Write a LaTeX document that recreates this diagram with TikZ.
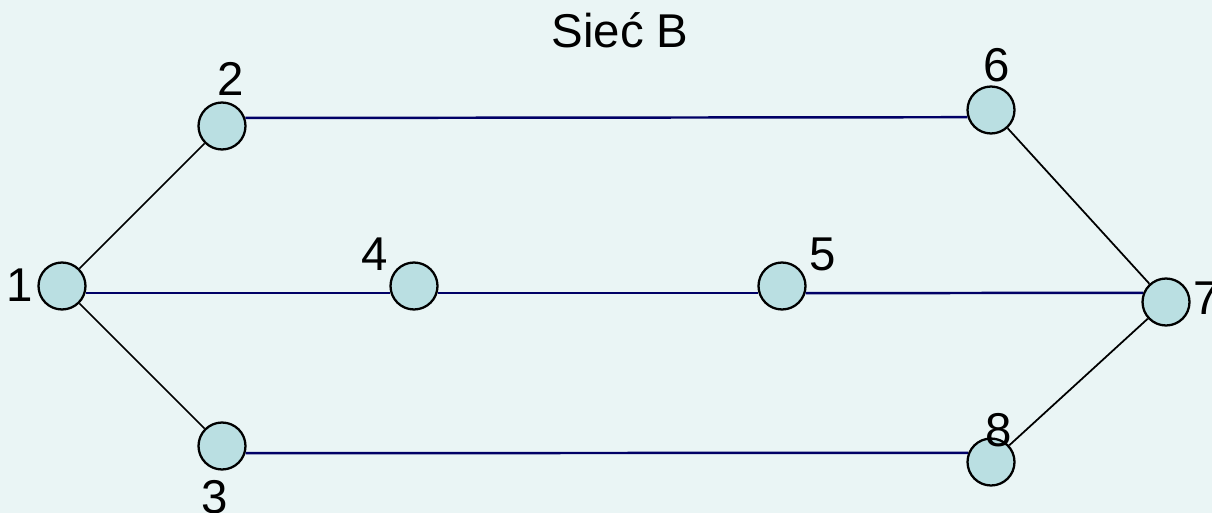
\documentclass[tikz,border=0pt]{standalone}
\usepackage{fontspec}
\setmainfont{Liberation Sans}
\usetikzlibrary{calc}
\definecolor{bgcol}{HTML}{EAF5F5}
\definecolor{nodecol}{HTML}{BADFE2}
\definecolor{linkcol}{HTML}{000066}

\begin{document}
\begin{tikzpicture}[
    x=0.02cm, y=-0.02cm,
    vertex/.style={circle, draw, line width=1.3pt, fill=nodecol, minimum size=0.94cm, inner sep=0pt},
    tag/.style={font=\fontsize{27}{31}\selectfont, inner sep=0pt},
    link/.style={draw=linkcol, line width=1.4pt},
    edge/.style={draw=black, line width=1pt}
]
    % Background
    \fill[bgcol] (0,0) rectangle (1212,513);
    \useasboundingbox (0,0) rectangle (1212,513);

    % Title
    \node[tag] (title) at (620,30) {Sieć B};

    % Nodes
    \node[vertex] (n1) at (62,286) {};
    \node[vertex] (n2) at (222,126) {};
    \node[vertex] (n3) at (222,446) {};
    \node[vertex] (n4) at (414,286) {};
    \node[vertex] (n5) at (782,286) {};
    \node[vertex] (n6) at (991,110) {};
    \node[vertex] (n7) at (1166,302) {};
    \node[vertex] (n8) at (991,462) {};

    % Labels
    \node[tag] (l1) at (20,285) {1};
    \node[tag] (l2) at (231,79) {2};
    \node[tag] (l3) at (215,497) {3};
    \node[tag] (l4) at (375,254) {4};
    \node[tag] (l5) at (823,254) {5};
    \node[tag] (l6) at (997,65) {6};
    \node[tag] (l7) at (1207,298) {7};
    \node[tag] (l8) at (999,430) {8};

    % Links
    \draw[edge] (n1) -- (n2);
    \draw[edge] (n1) -- (n3);
    \draw[edge] (n6) -- (n7);
    \draw[edge] (n8) -- (n7);
    \draw[link] (n2.19) -- (n6.-163);
    \draw[link] (n1.-17) -- (n4.-163);
    \draw[link] (n4.-17) -- (n5.-163);
    \draw[link] (n5.-17) -- (n7.158);
    \draw[link] (n3.-17) -- (n8.158);
\end{tikzpicture}
\end{document}
